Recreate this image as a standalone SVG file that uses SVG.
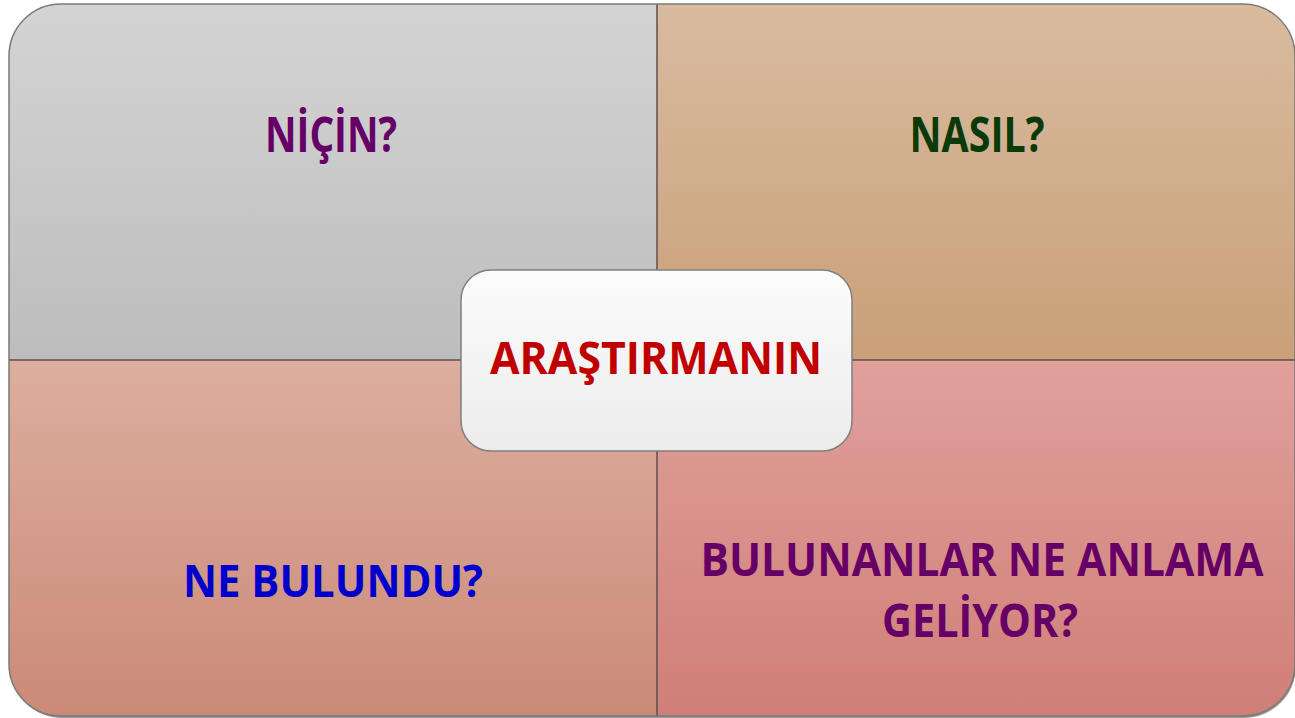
<svg xmlns="http://www.w3.org/2000/svg" width="1295" height="718" viewBox="0 0 1295 718">
<defs>
<linearGradient id="gTL" x1="0" y1="0" x2="0" y2="1"><stop offset="0" stop-color="#d4d4d4"/><stop offset="1" stop-color="#bdbdbd"/></linearGradient>
<linearGradient id="gTR" x1="0" y1="0" x2="0" y2="1"><stop offset="0" stop-color="#d9bb9f"/><stop offset="1" stop-color="#c9a078"/></linearGradient>
<linearGradient id="gBL" x1="0" y1="0" x2="0" y2="1"><stop offset="0" stop-color="#ddae9f"/><stop offset="1" stop-color="#cb8a77"/></linearGradient>
<linearGradient id="gBR" x1="0" y1="0" x2="0" y2="1"><stop offset="0" stop-color="#e1a09c"/><stop offset="1" stop-color="#cf7f77"/></linearGradient>
<linearGradient id="gC" x1="0" y1="0" x2="0" y2="1"><stop offset="0" stop-color="#fcfcfc"/><stop offset="1" stop-color="#ececec"/></linearGradient>
<clipPath id="outer"><rect x="9" y="4" width="1286" height="712" rx="52" ry="52"/></clipPath>
</defs>
<style>
.t{font-family:"Open Sans","Noto Sans","Liberation Sans",sans-serif;font-weight:bold;text-anchor:middle}
.div{stroke:#5e4e4e;stroke-width:1.5}
</style>
<rect x="10" y="6" width="1286" height="712" rx="52" ry="52" fill="#9a9a9a"/>
<g id="q-nicin">
<rect x="9" y="4" width="648" height="356" fill="url(#gTL)" clip-path="url(#outer)"/>
<text class="t" x="331" y="152" font-size="48" fill="#660066" textLength="132" lengthAdjust="spacingAndGlyphs">NİÇİN?</text>
</g>
<g id="q-nasil">
<rect x="657" y="4" width="638" height="356" fill="url(#gTR)" clip-path="url(#outer)"/>
<text class="t" x="977" y="152" font-size="48" fill="#0a3a0a" textLength="135" lengthAdjust="spacingAndGlyphs">NASIL?</text>
</g>
<g id="q-ne-bulundu">
<rect x="9" y="360" width="648" height="356" fill="url(#gBL)" clip-path="url(#outer)"/>
<text class="t" x="333" y="597" font-size="45" fill="#0000cc" textLength="300" lengthAdjust="spacingAndGlyphs">NE BULUNDU?</text>
</g>
<g id="q-anlam">
<rect x="657" y="360" width="638" height="356" fill="url(#gBR)" clip-path="url(#outer)"/>
<text class="t" x="982" y="576" font-size="47" fill="#660066" textLength="563" lengthAdjust="spacingAndGlyphs">BULUNANLAR NE ANLAMA</text>
<text class="t" x="980" y="637" font-size="47" fill="#660066" textLength="196" lengthAdjust="spacingAndGlyphs">GELİYOR?</text>
</g>
<g id="dividers" clip-path="url(#outer)">
<line class="div" x1="657" y1="4" x2="657" y2="716"/>
<line class="div" x1="9" y1="360" x2="1295" y2="360"/>
</g>
<rect x="9" y="4" width="1286" height="712" rx="52" ry="52" fill="none" stroke="#7a7a7a" stroke-width="1.5"/>
<g id="center">
<rect x="461" y="270" width="391" height="181" rx="30" ry="30" fill="url(#gC)" stroke="#7f7f7f" stroke-width="1.5"/>
<text class="t" x="656" y="374" font-size="44" fill="#c00000" textLength="332" lengthAdjust="spacingAndGlyphs">ARAŞTIRMANIN</text>
</g>
</svg>
